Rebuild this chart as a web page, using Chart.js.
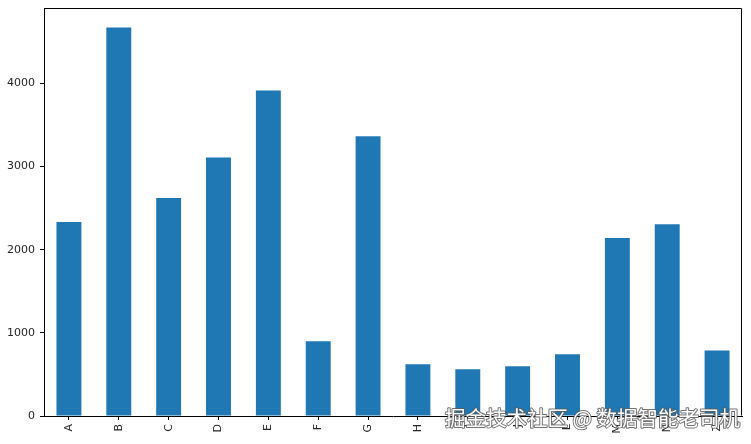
<!DOCTYPE html>
<html>
<head>
<meta charset="utf-8">
<script src="https://cdn.jsdelivr.net/npm/chart.js@4.4.1/dist/chart.umd.min.js"></script>
<style>
html,body{margin:0;padding:0;background:#fff;}
#wrap{width:751px;height:444px;position:relative;}
</style>
</head>
<body>
<div id="wrap"><canvas id="c"></canvas></div>
<script>
const categories = ['A','B','C','D','E','F','G','H','I','J','L','M','N','Z'];
const values = [2334, 4674, 2623, 3109, 3916, 899, 3366, 622, 562, 598, 742, 2142, 2307, 787];
const yTicks = [0, 1000, 2000, 3000, 4000];
const watermark = '掘金技术社区 @ 数据智能老司机';

const frame = {
  id: 'frame',
  afterDraw(chart) {
    const a = chart.chartArea, ctx = chart.ctx;
    const l = Math.round(a.left) + 0.5, r = Math.round(a.right) - 0.5;
    const t = Math.round(a.top) + 0.5, b = Math.round(a.bottom) - 0.5;
    ctx.save();
    ctx.strokeStyle = '#000';
    ctx.lineWidth = 1;
    ctx.beginPath();
    ctx.moveTo(l, t); ctx.lineTo(r, t); ctx.lineTo(r, b);
    ctx.stroke();
    // watermark
    ctx.font = '20.5px "Noto Sans CJK SC"';
    ctx.textAlign = 'right';
    ctx.textBaseline = 'middle';
    ctx.lineJoin = 'round';
    ctx.strokeStyle = 'rgba(90,90,90,0.85)';
    ctx.lineWidth = 2;
    ctx.strokeText(watermark, 740, 418);
    ctx.fillStyle = '#ffffff';
    ctx.fillText(watermark, 740, 418);
    ctx.restore();
  }
};

new Chart(document.getElementById('c'), {
  type: 'bar',
  data: {
    labels: categories,
    datasets: [{
      data: values,
      backgroundColor: '#1f77b4',
      borderWidth: 0,
      barPercentage: 0.5,
      categoryPercentage: 1.0
    }]
  },
  options: {
    responsive: true,
    maintainAspectRatio: false,
    animation: false,
    layout: { padding: { top: 8, right: 9, left: 0, bottom: 0 } },
    plugins: { legend: { display: false }, tooltip: { enabled: false } },
    scales: {
      x: {
        offset: true,
        grid: { display: true, drawOnChartArea: false, drawTicks: true, tickLength: 4, color: '#000', offset: false },
        border: { display: true, color: '#000' },
        ticks: {
          color: '#262626',
          font: { family: 'DejaVu Sans', size: 11 },
          minRotation: 90, maxRotation: 90,
          padding: 4,
          autoSkip: false
        },
        afterFit(scale) { scale.height = 28; scale.paddingLeft = 0; scale.paddingRight = 0; }
      },
      y: {
        min: 0,
        max: 4908,
        afterBuildTicks(scale) { scale.ticks = yTicks.map(v => ({ value: v })); },
        grid: { display: true, drawOnChartArea: false, drawTicks: true, tickLength: 4, color: '#000' },
        border: { display: true, color: '#000' },
        ticks: {
          color: '#262626',
          font: { family: 'DejaVu Sans', size: 11 },
          padding: 5,
          callback: v => String(v)
        },
        afterFit(scale) { scale.width = 44; scale.paddingTop = 0; scale.paddingBottom = 0; }
      }
    }
  },
  plugins: [frame]
});
</script>
</body>
</html>
